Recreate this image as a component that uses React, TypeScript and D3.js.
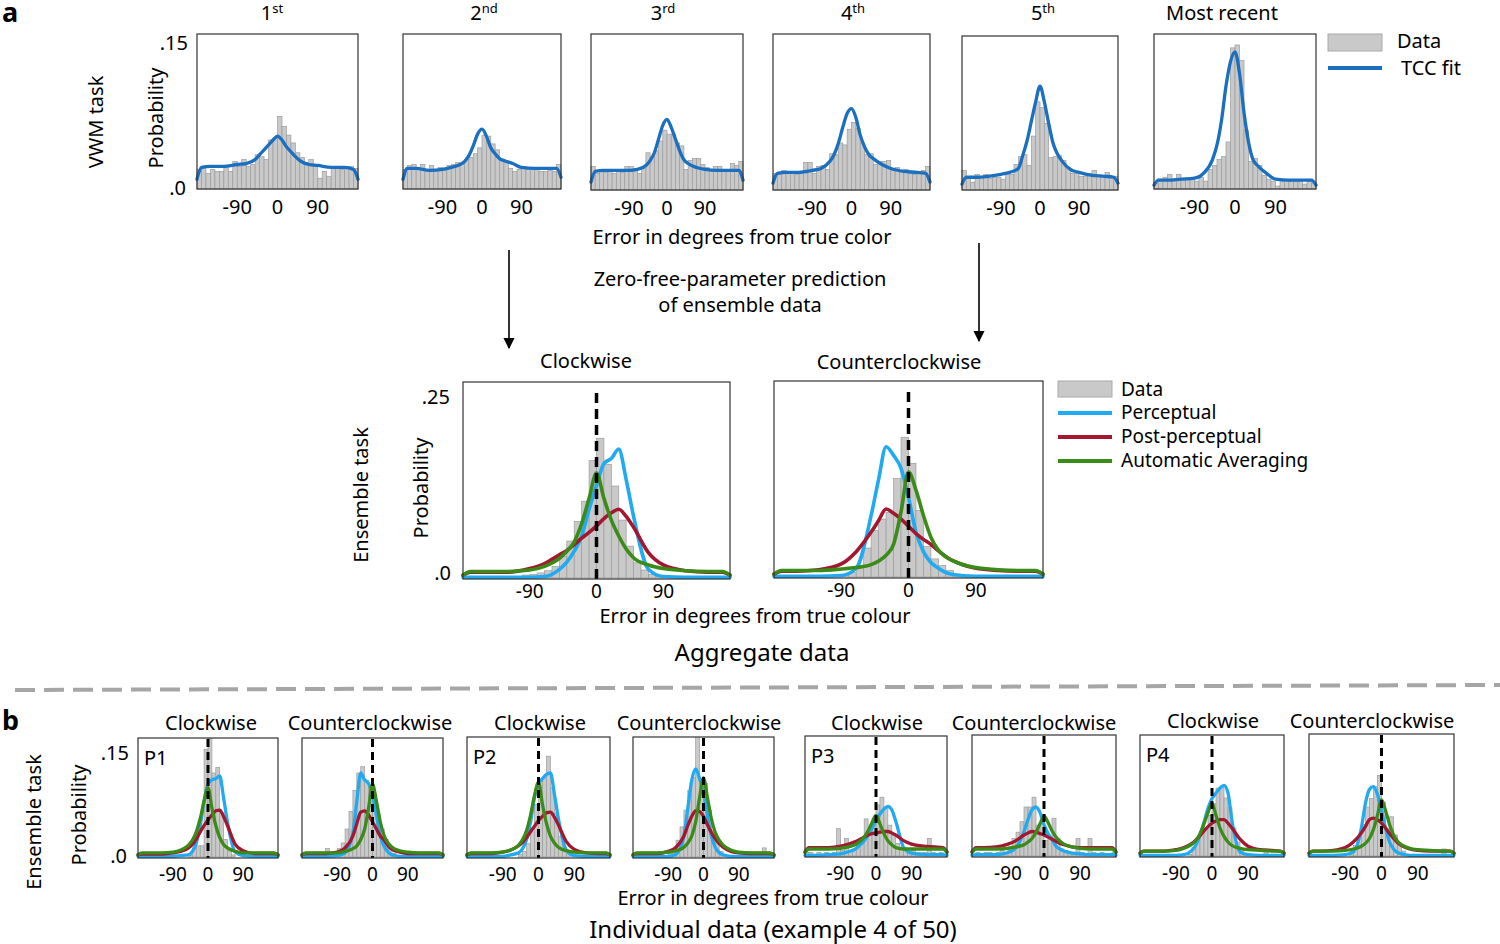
import React from 'react';
import * as d3 from 'd3';

const FONT = '"Noto Sans", "Open Sans", sans-serif';
const C_TCC = '#1a6fc0';
const C_PERC = '#1faaf2';
const C_POST = '#a3172f';
const C_AUTO = '#3b8b18';
const BAR_FILL = '#c9c9c9';
const BAR_STROKE = '#9c9c9c';

const CURVE_DEG = [-180, -170, -150, -120, -90, -70, -50, -40, -30, -20, -10, 0, 10, 20, 30, 40, 50, 70, 90, 120, 150, 170, 180];
// 10 degree histogram bins, left edges
const BIN_STARTS = d3.range(-180, 180, 10);
const X_TICKS = [-90, 0, 90];

// ---- a: VWM task, by serial position ----
const VWM_TITLES = [['1', 'st'], ['2', 'nd'], ['3', 'rd'], ['4', 'th'], ['5', 'th'], ['Most recent', '']];

const VWM_HIST_1 = [0.020, 0.021, 0.016, 0.020, 0.018, 0.018, 0.023, 0.018, 0.028, 0.023, 0.030, 0.023, 0.025, 0.035, 0.033, 0.030, 0.050, 0.052, 0.074, 0.064, 0.055, 0.047, 0.037, 0.032, 0.027, 0.030, 0.023, 0.011, 0.018, 0.013, 0.021, 0.023, 0.020, 0.021, 0.023, 0.021];
const VWM_HIST_2 = [0.020, 0.024, 0.025, 0.021, 0.025, 0.020, 0.024, 0.019, 0.022, 0.020, 0.024, 0.025, 0.027, 0.025, 0.030, 0.032, 0.036, 0.042, 0.055, 0.054, 0.046, 0.040, 0.030, 0.027, 0.021, 0.018, 0.020, 0.023, 0.022, 0.021, 0.020, 0.018, 0.018, 0.019, 0.018, 0.025];
const VWM_HIST_3 = [0.024, 0.017, 0.020, 0.018, 0.020, 0.017, 0.020, 0.018, 0.024, 0.024, 0.022, 0.017, 0.022, 0.038, 0.034, 0.040, 0.050, 0.061, 0.057, 0.057, 0.048, 0.045, 0.021, 0.030, 0.032, 0.032, 0.026, 0.023, 0.021, 0.024, 0.024, 0.020, 0.020, 0.027, 0.025, 0.029];
const VWM_HIST_4 = [0.017, 0.016, 0.020, 0.017, 0.019, 0.016, 0.018, 0.028, 0.028, 0.017, 0.024, 0.025, 0.021, 0.037, 0.036, 0.048, 0.046, 0.062, 0.069, 0.063, 0.048, 0.036, 0.037, 0.026, 0.029, 0.029, 0.030, 0.020, 0.023, 0.020, 0.021, 0.017, 0.016, 0.018, 0.020, 0.024];
const VWM_HIST_5 = [0.020, 0.012, 0.008, 0.016, 0.013, 0.016, 0.012, 0.013, 0.013, 0.011, 0.017, 0.016, 0.026, 0.034, 0.036, 0.025, 0.055, 0.090, 0.084, 0.068, 0.033, 0.034, 0.035, 0.030, 0.023, 0.017, 0.017, 0.014, 0.014, 0.017, 0.020, 0.015, 0.014, 0.018, 0.013, 0.014];
const VWM_HIST_6 = [0.006, 0.010, 0.012, 0.015, 0.010, 0.015, 0.010, 0.010, 0.010, 0.008, 0.012, 0.008, 0.020, 0.024, 0.030, 0.033, 0.048, 0.144, 0.147, 0.131, 0.060, 0.028, 0.031, 0.024, 0.014, 0.010, 0.008, 0.003, 0.008, 0.008, 0.008, 0.008, 0.008, 0.005, 0.008, 0.006];

const TCC_FIT_1 = [0.010, 0.022, 0.023, 0.023, 0.025, 0.026, 0.030, 0.035, 0.040, 0.045, 0.050, 0.054, 0.050, 0.043, 0.038, 0.033, 0.029, 0.025, 0.024, 0.022, 0.022, 0.020, 0.010];
const TCC_FIT_2 = [0.010, 0.021, 0.021, 0.019, 0.020, 0.022, 0.025, 0.028, 0.034, 0.044, 0.056, 0.061, 0.054, 0.042, 0.036, 0.031, 0.029, 0.026, 0.022, 0.021, 0.021, 0.021, 0.012];
const TCC_FIT_3 = [0.008, 0.019, 0.020, 0.020, 0.020, 0.021, 0.025, 0.030, 0.038, 0.052, 0.066, 0.072, 0.064, 0.052, 0.040, 0.031, 0.027, 0.023, 0.021, 0.020, 0.020, 0.020, 0.010];
const TCC_FIT_4 = [0.007, 0.017, 0.018, 0.018, 0.020, 0.022, 0.029, 0.036, 0.048, 0.064, 0.078, 0.083, 0.074, 0.056, 0.044, 0.036, 0.032, 0.026, 0.022, 0.019, 0.018, 0.017, 0.008];
const TCC_FIT_5 = [0.006, 0.013, 0.013, 0.014, 0.016, 0.018, 0.022, 0.035, 0.050, 0.070, 0.090, 0.106, 0.090, 0.068, 0.048, 0.037, 0.030, 0.021, 0.018, 0.015, 0.014, 0.013, 0.007];
const TCC_FIT_6 = [0.004, 0.009, 0.009, 0.010, 0.011, 0.016, 0.030, 0.045, 0.070, 0.105, 0.130, 0.140, 0.118, 0.078, 0.048, 0.030, 0.024, 0.016, 0.010, 0.009, 0.009, 0.009, 0.004];

// ---- a: ensemble task, aggregate ----
const AGG_CW_HIST = [0, 0, 0, 0, 0, 0, 0, 0.002, 0.004, 0.005, 0.007, 0.010, 0.016, 0.030, 0.051, 0.078, 0.106, 0.162, 0.193, 0.157, 0.127, 0.080, 0.044, 0.021, 0.011, 0.005, 0.002, 0, 0, 0, 0, 0, 0, 0, 0, 0];
const AGG_CCW_HIST = [0, 0, 0, 0, 0, 0, 0, 0, 0, 0.002, 0.006, 0.016, 0.040, 0.064, 0.080, 0.089, 0.136, 0.193, 0.157, 0.092, 0.042, 0.025, 0.016, 0.009, 0.004, 0.002, 0, 0, 0, 0, 0, 0, 0, 0, 0, 0];
const AGG_CW_PERC = [0.001, 0.001, 0.001, 0.001, 0.001, 0.002, 0.012, 0.022, 0.037, 0.058, 0.095, 0.128, 0.158, 0.165, 0.178, 0.136, 0.085, 0.012, 0.002, 0.001, 0.001, 0.001, 0.001];
const AGG_CW_POST = [0.004, 0.008, 0.008, 0.008, 0.013, 0.020, 0.032, 0.038, 0.046, 0.055, 0.063, 0.072, 0.082, 0.090, 0.095, 0.085, 0.070, 0.035, 0.018, 0.010, 0.008, 0.008, 0.004];
const AGG_CW_AUTO = [0.004, 0.009, 0.009, 0.009, 0.011, 0.016, 0.027, 0.037, 0.050, 0.075, 0.110, 0.145, 0.110, 0.080, 0.058, 0.040, 0.028, 0.018, 0.013, 0.010, 0.009, 0.009, 0.004];
const AGG_CCW_PERC = [0.001, 0.001, 0.001, 0.001, 0.002, 0.012, 0.085, 0.135, 0.180, 0.168, 0.150, 0.110, 0.062, 0.035, 0.020, 0.012, 0.006, 0.002, 0.001, 0.001, 0.001, 0.001, 0.001];
const AGG_CCW_POST = [0.004, 0.008, 0.008, 0.010, 0.018, 0.035, 0.062, 0.078, 0.094, 0.088, 0.080, 0.070, 0.060, 0.052, 0.045, 0.036, 0.028, 0.018, 0.012, 0.009, 0.008, 0.008, 0.004];
const AGG_CCW_AUTO = [0.004, 0.009, 0.009, 0.009, 0.011, 0.013, 0.017, 0.022, 0.030, 0.045, 0.090, 0.145, 0.120, 0.085, 0.055, 0.037, 0.028, 0.018, 0.013, 0.010, 0.009, 0.009, 0.004];

// ---- b: individual participants ----
const IND_TAGS = ['P1', 'P2', 'P3', 'P4'];
const IND_TITLES = ['Clockwise', 'Counterclockwise'];
const MODEL_NAMES = ['Perceptual', 'Post-perceptual', 'Automatic Averaging'];

const P1_CW_HIST = [0, 0, 0, 0, 0, 0, 0, 0, 0, 0, 0, 0, 0, 0.002, 0.013, 0.016, 0.016, 0.154, 0.180, 0.120, 0.128, 0.063, 0.025, 0.010, 0.003, 0, 0, 0, 0, 0, 0, 0, 0, 0, 0, 0];
const P1_CCW_HIST = [0, 0, 0, 0, 0, 0, 0.012, 0.002, 0.004, 0.012, 0.020, 0.040, 0.065, 0.095, 0.120, 0.129, 0.110, 0.100, 0.090, 0.060, 0.040, 0.025, 0.012, 0.005, 0, 0, 0, 0, 0, 0, 0, 0, 0, 0, 0, 0];
const P2_CW_HIST = [0, 0, 0, 0, 0, 0, 0, 0, 0, 0, 0, 0, 0, 0.004, 0.008, 0.019, 0.036, 0.075, 0.110, 0.113, 0.144, 0.099, 0.062, 0.030, 0.014, 0.006, 0, 0, 0, 0, 0, 0, 0, 0, 0, 0];
const P2_CCW_HIST = [0, 0, 0, 0, 0, 0, 0, 0, 0, 0.005, 0.012, 0.024, 0.043, 0.067, 0.095, 0.114, 0.180, 0.110, 0.105, 0.067, 0.038, 0.019, 0.008, 0, 0, 0, 0, 0, 0, 0, 0, 0, 0, 0.013, 0, 0];
const P3_CW_HIST = [0.005, 0.005, 0.002, 0.005, 0.002, 0.005, 0.002, 0.005, 0.039, 0.008, 0.025, 0.008, 0.010, 0.015, 0.025, 0.053, 0.039, 0.053, 0.073, 0.084, 0.070, 0.044, 0.030, 0.018, 0.013, 0.008, 0.005, 0.008, 0.005, 0.005, 0.005, 0.025, 0.005, 0.002, 0.005, 0.002];
const P3_CCW_HIST = [0.002, 0.005, 0.002, 0.005, 0.005, 0.002, 0.005, 0.008, 0.005, 0.013, 0.025, 0.034, 0.049, 0.070, 0.070, 0.084, 0.044, 0.049, 0.022, 0.027, 0.054, 0.025, 0.010, 0.008, 0.005, 0.005, 0.025, 0.005, 0.002, 0.025, 0.005, 0.002, 0.005, 0.002, 0.002, 0.005];
const P4_CW_HIST = [0, 0, 0, 0, 0, 0, 0, 0, 0, 0, 0, 0, 0.002, 0.012, 0.026, 0.032, 0.039, 0.058, 0.075, 0.097, 0.100, 0.083, 0.069, 0.040, 0.020, 0.010, 0.004, 0, 0, 0, 0, 0.010, 0, 0, 0, 0];
const P4_CCW_HIST = [0, 0, 0, 0, 0, 0, 0, 0, 0, 0, 0.006, 0.015, 0.028, 0.045, 0.070, 0.082, 0.099, 0.115, 0.077, 0.040, 0.056, 0.030, 0.015, 0.007, 0, 0, 0, 0, 0, 0, 0, 0, 0, 0.010, 0, 0];

const P1_CW_PERC = [0.001, 0.001, 0.001, 0.001, 0.001, 0.002, 0.003, 0.008, 0.020, 0.045, 0.080, 0.104, 0.110, 0.112, 0.116, 0.085, 0.050, 0.007, 0.002, 0.001, 0.001, 0.001, 0.001];
const P1_CW_POST = [0.003, 0.004, 0.004, 0.004, 0.006, 0.008, 0.013, 0.018, 0.026, 0.036, 0.045, 0.053, 0.060, 0.066, 0.067, 0.058, 0.045, 0.018, 0.009, 0.005, 0.005, 0.005, 0.003];
const P1_CW_AUTO = [0.003, 0.006, 0.006, 0.006, 0.007, 0.010, 0.017, 0.024, 0.036, 0.055, 0.080, 0.099, 0.070, 0.045, 0.028, 0.018, 0.013, 0.008, 0.006, 0.006, 0.006, 0.006, 0.003];
const P1_CCW_PERC = [0.001, 0.001, 0.001, 0.001, 0.002, 0.006, 0.035, 0.080, 0.120, 0.110, 0.105, 0.090, 0.060, 0.030, 0.015, 0.007, 0.003, 0.001, 0.001, 0.001, 0.001, 0.001, 0.001];
const P1_CCW_POST = [0.003, 0.005, 0.005, 0.005, 0.007, 0.013, 0.030, 0.048, 0.064, 0.066, 0.060, 0.050, 0.040, 0.030, 0.024, 0.016, 0.011, 0.007, 0.005, 0.005, 0.005, 0.005, 0.003];
const P1_CCW_AUTO = [0.003, 0.006, 0.006, 0.006, 0.006, 0.008, 0.012, 0.016, 0.025, 0.040, 0.070, 0.104, 0.080, 0.050, 0.030, 0.020, 0.014, 0.009, 0.007, 0.006, 0.006, 0.006, 0.003];

const P2_CW_PERC = [0.001, 0.001, 0.001, 0.001, 0.001, 0.003, 0.006, 0.012, 0.025, 0.050, 0.085, 0.105, 0.112, 0.118, 0.120, 0.090, 0.055, 0.010, 0.002, 0.001, 0.001, 0.001, 0.001];
const P2_CW_POST = [0.003, 0.005, 0.005, 0.005, 0.007, 0.010, 0.016, 0.021, 0.028, 0.036, 0.044, 0.052, 0.058, 0.063, 0.064, 0.057, 0.046, 0.022, 0.011, 0.006, 0.005, 0.005, 0.003];
const P2_CW_AUTO = [0.003, 0.006, 0.006, 0.006, 0.007, 0.010, 0.017, 0.025, 0.038, 0.060, 0.088, 0.107, 0.075, 0.048, 0.030, 0.020, 0.014, 0.009, 0.007, 0.006, 0.006, 0.006, 0.003];
const P2_CCW_PERC = [0.001, 0.001, 0.001, 0.001, 0.001, 0.004, 0.030, 0.070, 0.110, 0.126, 0.112, 0.095, 0.060, 0.030, 0.014, 0.006, 0.003, 0.001, 0.001, 0.001, 0.001, 0.001, 0.001];
const P2_CCW_POST = [0.003, 0.005, 0.005, 0.005, 0.008, 0.014, 0.030, 0.045, 0.058, 0.066, 0.065, 0.058, 0.046, 0.035, 0.026, 0.019, 0.014, 0.008, 0.006, 0.005, 0.005, 0.005, 0.003];
const P2_CCW_AUTO = [0.003, 0.006, 0.006, 0.006, 0.007, 0.009, 0.014, 0.020, 0.030, 0.050, 0.085, 0.113, 0.085, 0.055, 0.035, 0.024, 0.017, 0.010, 0.007, 0.006, 0.006, 0.006, 0.003];

const P3_CW_PERC = [0.001, 0.001, 0.001, 0.002, 0.003, 0.006, 0.011, 0.016, 0.022, 0.030, 0.040, 0.050, 0.060, 0.067, 0.071, 0.066, 0.050, 0.012, 0.004, 0.002, 0.002, 0.002, 0.001];
const P3_CW_POST = [0.006, 0.012, 0.012, 0.012, 0.014, 0.017, 0.021, 0.024, 0.027, 0.030, 0.032, 0.033, 0.034, 0.035, 0.035, 0.033, 0.030, 0.022, 0.017, 0.014, 0.013, 0.012, 0.006];
const P3_CW_AUTO = [0.005, 0.010, 0.010, 0.010, 0.011, 0.013, 0.017, 0.021, 0.027, 0.036, 0.048, 0.058, 0.046, 0.032, 0.022, 0.016, 0.012, 0.010, 0.010, 0.010, 0.010, 0.010, 0.005];
const P3_CCW_PERC = [0.001, 0.002, 0.002, 0.002, 0.005, 0.012, 0.035, 0.052, 0.066, 0.070, 0.062, 0.045, 0.032, 0.024, 0.014, 0.010, 0.007, 0.004, 0.003, 0.002, 0.002, 0.002, 0.001];
const P3_CCW_POST = [0.006, 0.012, 0.012, 0.013, 0.017, 0.022, 0.030, 0.033, 0.035, 0.034, 0.032, 0.030, 0.027, 0.024, 0.021, 0.018, 0.016, 0.013, 0.012, 0.012, 0.012, 0.012, 0.006];
const P3_CCW_AUTO = [0.005, 0.010, 0.010, 0.010, 0.011, 0.013, 0.016, 0.020, 0.025, 0.034, 0.046, 0.057, 0.048, 0.036, 0.027, 0.021, 0.017, 0.013, 0.011, 0.010, 0.010, 0.010, 0.005];

const P4_CW_PERC = [0.001, 0.001, 0.001, 0.001, 0.001, 0.002, 0.008, 0.016, 0.030, 0.048, 0.068, 0.082, 0.090, 0.097, 0.101, 0.090, 0.050, 0.006, 0.002, 0.001, 0.001, 0.001, 0.001];
const P4_CW_POST = [0.004, 0.007, 0.007, 0.007, 0.009, 0.012, 0.018, 0.023, 0.029, 0.036, 0.042, 0.047, 0.050, 0.052, 0.052, 0.047, 0.040, 0.024, 0.014, 0.009, 0.008, 0.007, 0.004];
const P4_CW_AUTO = [0.004, 0.007, 0.007, 0.007, 0.008, 0.011, 0.017, 0.022, 0.032, 0.046, 0.062, 0.075, 0.058, 0.040, 0.028, 0.020, 0.015, 0.011, 0.009, 0.008, 0.007, 0.007, 0.004];
const P4_CCW_PERC = [0.001, 0.001, 0.001, 0.001, 0.002, 0.006, 0.040, 0.075, 0.095, 0.099, 0.088, 0.065, 0.040, 0.020, 0.010, 0.005, 0.003, 0.001, 0.001, 0.001, 0.001, 0.001, 0.001];
const P4_CCW_POST = [0.004, 0.007, 0.007, 0.008, 0.012, 0.020, 0.033, 0.042, 0.052, 0.054, 0.052, 0.047, 0.040, 0.032, 0.025, 0.019, 0.015, 0.010, 0.008, 0.007, 0.007, 0.007, 0.004];
const P4_CCW_AUTO = [0.004, 0.007, 0.007, 0.007, 0.008, 0.010, 0.014, 0.018, 0.025, 0.038, 0.058, 0.080, 0.065, 0.045, 0.030, 0.021, 0.016, 0.011, 0.009, 0.008, 0.007, 0.007, 0.004];

// ---- layout (pixels) ----
const TOP_BOXES = [
  { x0: 197, x1: 358, top: 34, bottom: 189, tx: 272 },
  { x0: 403, x1: 561, top: 34, bottom: 189, tx: 484 },
  { x0: 591, x1: 743, top: 34, bottom: 190, tx: 663 },
  { x0: 773, x1: 930, top: 34, bottom: 190, tx: 853 },
  { x0: 962, x1: 1118, top: 36, bottom: 190, tx: 1043 },
  { x0: 1154, x1: 1316, top: 34, bottom: 189, tx: 1222 },
];
const MID_BOXES = [
  { x0: 463, x1: 730, top: 382, bottom: 579, tx: 586 },
  { x0: 774, x1: 1043, top: 381, bottom: 578, tx: 899 },
];
const BOT_BOXES = [
  { x0: 138, x1: 278, top: 738, bottom: 858, tx: 211 },
  { x0: 302, x1: 443, top: 738, bottom: 858, tx: 370 },
  { x0: 467, x1: 610, top: 737, bottom: 858, tx: 540 },
  { x0: 633, x1: 774, top: 737, bottom: 858, tx: 699 },
  { x0: 805, x1: 947, top: 736, bottom: 857, tx: 877 },
  { x0: 972, x1: 1116, top: 735, bottom: 857, tx: 1034 },
  { x0: 1140, x1: 1284, top: 735, bottom: 857, tx: 1213 },
  { x0: 1309, x1: 1454, top: 734, bottom: 857, tx: 1372 },
];

type Box = { x0: number; x1: number; top: number; bottom: number; tx: number };
type Curve = { values: number[]; color: string };

const Panel = ({ id, box, ppu, base, hist, curves, lineW, dash, tickDy, tickSize = 20 }: {
  id: string; box: Box; ppu: number; base: number; hist: number[]; curves: Curve[];
  lineW: number; dash?: { off: number; w: number; pattern: string }; tickDy: number; tickSize?: number;
}) => {
  const xs = d3.scaleLinear().domain([-180, 180]).range([box.x0, box.x1]);
  const ys = d3.scaleLinear().domain([0, 1]).range([base, base - ppu]);
  const line = d3.line<number>()
    .x((_, i) => xs(CURVE_DEG[i]))
    .y(v => ys(v))
    .curve(d3.curveMonotoneX);

  return (
    <g>
      <clipPath id={id}>
        <rect x={box.x0 - 2} y={box.top} width={box.x1 - box.x0 + 4} height={box.bottom - box.top + 3} />
      </clipPath>
      <g clipPath={`url(#${id})`}>
        {hist.map((v, i) => v > 0 && (
          <rect key={i} x={xs(BIN_STARTS[i])} y={ys(v)}
            width={xs(BIN_STARTS[i] + 10) - xs(BIN_STARTS[i])} height={base - ys(v)}
            fill={BAR_FILL} stroke={BAR_STROKE} strokeWidth={0.7} />
        ))}
        {curves.map((c, k) => (
          <path key={k} d={line(c.values) || ''} fill="none" stroke={c.color}
            strokeWidth={lineW} strokeLinejoin="round" strokeLinecap="round" />
        ))}
        {dash && (
          <line x1={xs(0)} x2={xs(0)} y1={box.top + dash.off} y2={box.bottom}
            stroke="#000" strokeWidth={dash.w} strokeDasharray={dash.pattern} />
        )}
      </g>
      <rect x={box.x0} y={box.top} width={box.x1 - box.x0} height={box.bottom - box.top}
        fill="none" stroke="#333" strokeWidth={1.2} />
      {X_TICKS.map(t => (
        <text key={t} x={xs(t)} y={box.bottom + tickDy} textAnchor="middle"
          dominantBaseline="central" fontSize={tickSize}>{t}</text>
      ))}
    </g>
  );
};

const VText = ({ x, y, children, size = 20 }: { x: number; y: number; children: React.ReactNode; size?: number }) => (
  <text transform={`translate(${x},${y}) rotate(-90)`} textAnchor="middle" dominantBaseline="central" fontSize={size}>
    {children}
  </text>
);

const CText = ({ x, y, children, size = 20, anchor = 'middle', weight = 'normal' }: {
  x: number; y: number; children: React.ReactNode; size?: number; anchor?: string; weight?: string;
}) => (
  <text x={x} y={y} textAnchor={anchor} dominantBaseline="central" fontSize={size} fontWeight={weight}>{children}</text>
);

export default function App() {
  const topHist = [VWM_HIST_1, VWM_HIST_2, VWM_HIST_3, VWM_HIST_4, VWM_HIST_5, VWM_HIST_6];
  const topFit = [TCC_FIT_1, TCC_FIT_2, TCC_FIT_3, TCC_FIT_4, TCC_FIT_5, TCC_FIT_6];

  const midHist = [AGG_CW_HIST, AGG_CCW_HIST];
  const midCurves = [
    [AGG_CW_PERC, AGG_CW_POST, AGG_CW_AUTO],
    [AGG_CCW_PERC, AGG_CCW_POST, AGG_CCW_AUTO],
  ];

  const botHist = [P1_CW_HIST, P1_CCW_HIST, P2_CW_HIST, P2_CCW_HIST, P3_CW_HIST, P3_CCW_HIST, P4_CW_HIST, P4_CCW_HIST];
  const botCurves = [
    [P1_CW_PERC, P1_CW_POST, P1_CW_AUTO], [P1_CCW_PERC, P1_CCW_POST, P1_CCW_AUTO],
    [P2_CW_PERC, P2_CW_POST, P2_CW_AUTO], [P2_CCW_PERC, P2_CCW_POST, P2_CCW_AUTO],
    [P3_CW_PERC, P3_CW_POST, P3_CW_AUTO], [P3_CCW_PERC, P3_CCW_POST, P3_CCW_AUTO],
    [P4_CW_PERC, P4_CW_POST, P4_CW_AUTO], [P4_CCW_PERC, P4_CCW_POST, P4_CCW_AUTO],
  ];
  const modelColors = [C_PERC, C_POST, C_AUTO];

  const TOP_PPU = 980, MID_PPU = 724, BOT_PPU = 700;

  return (
    <svg width={1500} height={944} style={{ position: 'absolute', left: 0, top: 0, background: '#fff' }}
      fontFamily={FONT} fill="#000">
      <defs>
        <marker id="arrow" viewBox="0 0 10 10" refX="9" refY="5" markerWidth="7" markerHeight="7" orient="auto">
          <path d="M0,0 L10,5 L0,10 z" fill="#000" />
        </marker>
      </defs>

      {/* panel a, VWM task */}
      <text x={2} y={22} fontSize={27} fontWeight="bold">a</text>
      <VText x={95} y={122}>VWM task</VText>
      <VText x={155} y={118}>Probability</VText>
      <CText x={188} y={42} anchor="end">.15</CText>
      <CText x={186} y={187} anchor="end">.0</CText>
      {TOP_BOXES.map((b, i) => (
        <g key={i}>
          <text x={b.tx} y={20} textAnchor="middle" fontSize={20}>
            {VWM_TITLES[i][0]}
            {VWM_TITLES[i][1] && <tspan fontSize={13} dy={-7}>{VWM_TITLES[i][1]}</tspan>}
          </text>
          <Panel id={`top${i}`} box={b} ppu={TOP_PPU} base={b.bottom} hist={topHist[i]}
            curves={[{ values: topFit[i], color: C_TCC }]} lineW={3.3} tickDy={17} />
        </g>
      ))}
      <rect x={1328} y={34} width={54} height={17} fill={BAR_FILL} stroke="#aaa" strokeWidth={1} />
      <CText x={1397} y={40} anchor="start">Data</CText>
      <line x1={1328} x2={1382} y1={68} y2={68} stroke={C_TCC} strokeWidth={4} />
      <CText x={1401} y={67} anchor="start">TCC fit</CText>

      <CText x={742} y={236}>Error in degrees from true color</CText>
      <CText x={740} y={278}>Zero-free-parameter prediction</CText>
      <CText x={740} y={304}>of ensemble data</CText>
      <line x1={509} x2={509} y1={250} y2={348} stroke="#000" strokeWidth={1.6} markerEnd="url(#arrow)" />
      <line x1={979} x2={979} y1={243} y2={341} stroke="#000" strokeWidth={1.6} markerEnd="url(#arrow)" />

      {/* aggregate ensemble data */}
      <VText x={360} y={495}>Ensemble task</VText>
      <VText x={420} y={488}>Probability</VText>
      <CText x={450} y={396} anchor="end">.25</CText>
      <CText x={451} y={572} anchor="end">.0</CText>
      {MID_BOXES.map((b, i) => (
        <g key={i}>
          <CText x={b.tx} y={i === 0 ? 360 : 361}>{IND_TITLES[i]}</CText>
          <Panel id={`mid${i}`} box={b} ppu={MID_PPU} base={b.bottom - 1} hist={midHist[i]}
            curves={midCurves[i].map((v, k) => ({ values: v, color: modelColors[k] }))}
            lineW={3.6} dash={{ off: 11, w: 3.5, pattern: '10 6' }} tickDy={12} tickSize={19} />
        </g>
      ))}
      <rect x={1058} y={381} width={54} height={16} fill={BAR_FILL} stroke="#aaa" strokeWidth={1} />
      <CText x={1121} y={389} anchor="start" size={19}>Data</CText>
      {MODEL_NAMES.map((name, k) => (
        <g key={name}>
          <line x1={1058} x2={1112} y1={413 + 24 * k} y2={413 + 24 * k} stroke={modelColors[k]} strokeWidth={4} />
          <CText x={1121} y={412 + 24 * k} anchor="start" size={19}>{name}</CText>
        </g>
      ))}
      <CText x={755} y={615}>Error in degrees from true colour</CText>
      <CText x={762} y={651} size={24}>Aggregate data</CText>

      <line x1={15} y1={690} x2={1500} y2={685} stroke="#a6a6a6" strokeWidth={4} strokeDasharray="20 9" />

      {/* panel b, individual data */}
      <text x={2} y={730} fontSize={27} fontWeight="bold">b</text>
      <VText x={33} y={822}>Ensemble task</VText>
      <VText x={78} y={815}>Probability</VText>
      <CText x={129} y={752} anchor="end">.15</CText>
      <CText x={127} y={855} anchor="end">.0</CText>
      {BOT_BOXES.map((b, i) => (
        <g key={i}>
          <CText x={b.tx} y={i >= 6 ? 720 : 722}>{IND_TITLES[i % 2]}</CText>
          <Panel id={`bot${i}`} box={b} ppu={BOT_PPU} base={b.bottom - 1} hist={botHist[i]}
            curves={botCurves[i].map((v, k) => ({ values: v, color: modelColors[k] }))}
            lineW={3.3} dash={{ off: 1, w: 3, pattern: '8 5' }} tickDy={16} tickSize={19} />
          {i % 2 === 0 && <CText x={b.x0 + 6} y={b.top + 19} anchor="start">{IND_TAGS[i / 2]}</CText>}
        </g>
      ))}
      <CText x={773} y={897}>Error in degrees from true colour</CText>
      <CText x={773} y={928} size={24}>Individual data (example 4 of 50)</CText>
    </svg>
  );
}
